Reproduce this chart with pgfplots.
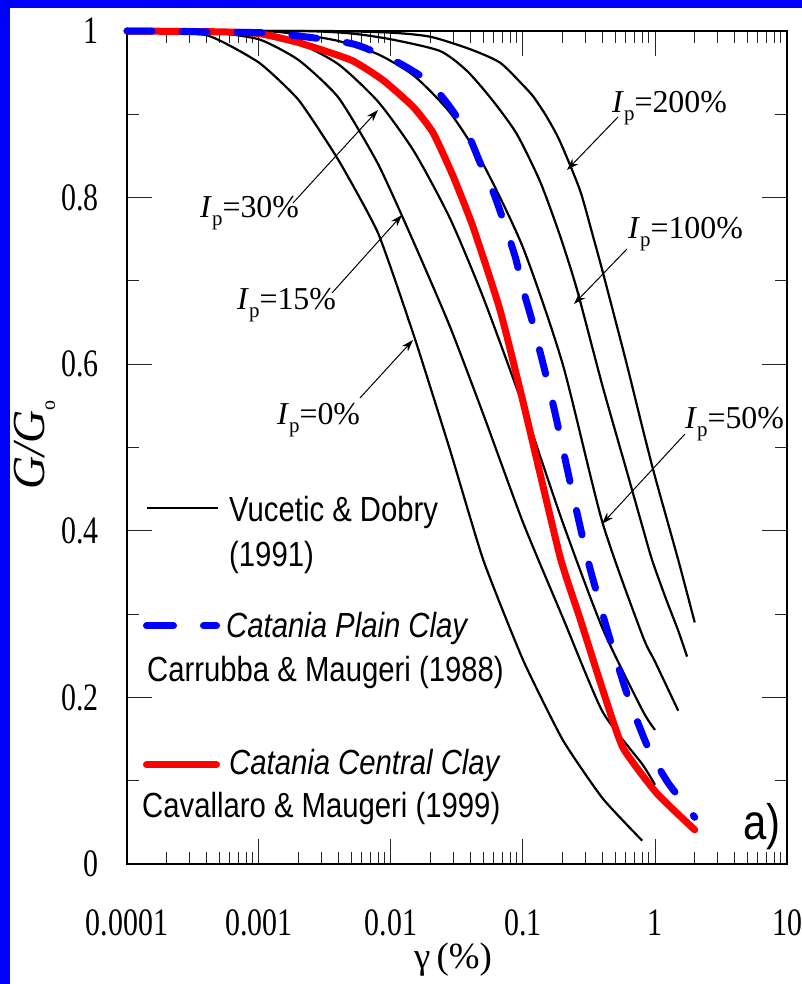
\documentclass[border=0pt]{standalone}
\usepackage{pgfplots}
\usepackage{pgfplotstable}
\pgfplotsset{compat=1.18}
\usepackage{fontspec}
\setmainfont{Liberation Serif}
\newfontfamily\ticks[FakeStretch=0.77]{Liberation Serif}
\newfontfamily\lsans[FakeStretch=0.84]{Liberation Sans}
\usetikzlibrary{arrows.meta}
\definecolor{fblue}{RGB}{0,0,255}
\definecolor{fred}{RGB}{255,0,0}

\pgfplotstableread{
g G
1e-4 1.0
4e-4 0.995
1e-3 0.962
2e-3 0.917
4e-3 0.845
8e-3 0.757
0.015 0.633
0.028 0.497
0.05 0.365
0.1 0.245
0.2 0.149
0.4 0.079
0.8 0.028
}\ipzero
\pgfplotstableread{
g G
1e-4 1.0
4e-4 0.999
1e-3 0.99
2e-3 0.965
4e-3 0.92
8e-3 0.84
0.015 0.745
0.028 0.645
0.05 0.54
0.1 0.41
0.2 0.296
0.4 0.183
0.8 0.12
1.0 0.095
}\ipfifteen
\pgfplotstableread{
g G
1e-4 1.0
4e-4 1.0
1e-3 0.995
2e-3 0.985
4e-3 0.96
8e-3 0.915
0.015 0.855
0.028 0.775
0.05 0.68
0.1 0.55
0.2 0.41
0.4 0.283
0.8 0.185
1.0 0.161
}\ipthirty
\pgfplotstableread{
g G
1e-4 1.0
1e-3 1.0
2e-3 0.996
4e-3 0.988
8e-3 0.972
0.015 0.946
0.028 0.902
0.05 0.84
0.1 0.74
0.2 0.60
0.4 0.41
0.8 0.275
1.0 0.243
1.5 0.184
}\ipfifty
\pgfplotstableread{
g G
1e-4 1.0
2e-3 1.0
5e-3 0.997
0.01 0.99
0.0235 0.976
0.0377 0.952
0.0593 0.916
0.09 0.876
0.135 0.819
0.19 0.755
0.256 0.69
0.4 0.574
0.6 0.476
0.8 0.406
0.95 0.365
1.2 0.32
1.5 0.28
1.75 0.249
}\iphundred
\pgfplotstableread{
g G
1e-4 1.0
3e-3 1.0
0.01 0.998
0.02 0.993
0.04 0.978
0.067 0.962
0.1 0.935
0.12 0.921
0.15 0.898
0.19 0.868
0.27 0.809
0.34 0.753
0.4 0.712
0.6 0.605
0.8 0.525
1.0 0.465
1.5 0.365
2.0 0.29
}\iptwohundred
\pgfplotstableread{
g G
1e-4 1.0
5e-4 0.999
1e-3 0.997
2e-3 0.986
5e-3 0.965
0.0087 0.941
0.0147 0.909
0.0208 0.878
0.0295 0.826
0.0418 0.765
0.067 0.665
0.1 0.555
0.19 0.37
0.27 0.295
0.4 0.21
0.57 0.14
1.03 0.085
2.0 0.041
}\central
\pgfplotstableread{
g G
1e-4 1.0
1e-3 0.998
2e-3 0.994
5e-3 0.985
8e-3 0.973
0.012 0.96
0.019 0.94
0.027 0.912
0.038 0.877
0.047 0.843
0.06 0.805
0.073 0.767
0.088 0.727
0.1 0.69
0.12 0.646
0.17 0.55
0.23 0.455
0.31 0.365
0.36 0.327
0.42 0.289
0.5 0.249
0.6 0.209
0.74 0.17
0.92 0.134
1.25 0.098
1.75 0.068
2.0 0.056
}\plain

\begin{document}
\begin{tikzpicture}
\useasboundingbox (-127bp,-120bp) rectangle (675bp,864bp);
\fill[fblue] (-127bp,-120bp) rectangle (-117bp,864bp);
\fill[fblue] (-127bp,856bp) rectangle (675bp,864bp);
\begin{axis}[
  at={(0,0)}, anchor=south west,
  scale only axis, width=660bp, height=833bp,
  xmode=log, xmin=1e-4, xmax=10, ymin=0, ymax=1,
  xtick={1e-4,1e-3,1e-2,1e-1,1,10},
  xticklabels={0.0001,0.001,0.01,0.1,1,10},
  minor xtick={2e-4,3e-4,4e-4,5e-4,6e-4,7e-4,8e-4,9e-4,
    2e-3,3e-3,4e-3,5e-3,6e-3,7e-3,8e-3,9e-3,
    0.02,0.03,0.04,0.05,0.06,0.07,0.08,0.09,
    0.2,0.3,0.4,0.5,0.6,0.7,0.8,0.9,
    2,3,4,5,6,7,8,9},
  ytick={0,0.2,0.4,0.6,0.8,1},
  yticklabels={0,0.2,0.4,0.6,0.8,1},
  minor ytick={0.1,0.3,0.5,0.7,0.9},
  major tick length=25bp, minor tick length=12bp,
  tick style={line width=1bp, color=black!85},
  axis line style={line width=1.3bp},
  xticklabel style={font=\ticks\fontsize{39}{39}\selectfont, anchor=base, yshift=-71bp, inner sep=0pt},
  yticklabel style={font=\ticks\fontsize{39}{39}\selectfont, anchor=east, xshift=-28bp, inner sep=0pt},
  clip=false,
]
\addplot[black, line width=2.2bp, smooth, tension=0.3] table[x=g,y=G] {\ipzero};
\addplot[black, line width=2.2bp, smooth, tension=0.35] table[x=g,y=G] {\ipfifteen};
\addplot[black, line width=2.2bp, smooth, tension=0.4] table[x=g,y=G] {\ipthirty};
\addplot[black, line width=2.2bp, smooth, tension=0.4] table[x=g,y=G] {\ipfifty};
\addplot[black, line width=2.2bp, smooth, tension=0.4] table[x=g,y=G] {\iphundred};
\addplot[black, line width=2.2bp, smooth, tension=0.4] table[x=g,y=G] {\iptwohundred};
\addplot[fred, line width=7bp, line cap=round, line join=round, smooth, tension=0.3] table[x=g,y=G] {\central};
\addplot[fblue, line width=7bp, line cap=round, line join=round, smooth, tension=0.4, dash pattern=on 25bp off 30bp] table[x=g,y=G] {\plain};
\end{axis}
\begin{scope}[x=1bp,y=-1bp,shift={(-127bp,864bp)}]
  % legend
  \draw[black, line width=2.2bp] (147,508) -- (218,508);
  \draw[fblue, line width=7bp, line cap=round] (146.5,626) -- (173.5,626);
  \draw[fblue, line width=7bp, line cap=round] (203.5,626) -- (216.5,626);
  \draw[fred, line width=7bp, line cap=round] (146.5,765) -- (216.5,765);
  \begin{scope}[every node/.style={anchor=base west, inner sep=0pt, font=\lsans\fontsize{35}{35}\selectfont}]
    \node at (229,522) {Vucetic \& Dobry};
    \node at (229,567) {(1991)};
    \node at (226,638) {\itshape Catania Plain Clay};
    \node at (147,682) {Carrubba \& Maugeri (1988)};
    \node at (229,775) {\itshape Catania Central Clay};
    \node at (142,818) {Cavallaro \& Maugeri (1999)};
  \end{scope}
  \node[anchor=base west, inner sep=0pt, font=\lsans\fontsize{50}{50}\selectfont] at (743,840) {a)};
  % Ip labels
  \begin{scope}[every node/.style={anchor=base west, inner sep=0pt, font=\fontsize{32}{32}\selectfont}]
    \node at (612,113) {\textit{I}\raisebox{-8bp}{\fontsize{21}{21}\selectfont p}=200\%};
    \node at (628,239) {\textit{I}\raisebox{-8bp}{\fontsize{21}{21}\selectfont p}=100\%};
    \node at (685,429) {\textit{I}\raisebox{-8bp}{\fontsize{21}{21}\selectfont p}=50\%};
    \node at (200,218) {\textit{I}\raisebox{-8bp}{\fontsize{21}{21}\selectfont p}=30\%};
    \node at (237,310) {\textit{I}\raisebox{-8bp}{\fontsize{21}{21}\selectfont p}=15\%};
    \node at (277,425) {\textit{I}\raisebox{-8bp}{\fontsize{21}{21}\selectfont p}=0\%};
  \end{scope}
  \begin{scope}[line width=1bp, -{Stealth[length=12bp,width=8bp]}]
    \draw (618,117) -- (567,170);
    \draw (627,249) -- (574,304);
    \draw (685,434) -- (602,524);
    \draw (293,203) -- (378,110);
    \draw (332,293) -- (402,215);
    \draw (360,398) -- (413,340);
  \end{scope}
  % axis labels
  \node[rotate=90, anchor=base west, inner sep=0pt, font=\fontsize{46}{46}\selectfont] at (45,490) {\textit{G/G}\raisebox{-10bp}{\fontsize{20}{20}\selectfont o}};
  \node[anchor=base, inner sep=0pt, font=\fontsize{37}{37}\selectfont] at (453,969) {γ\,(\%)};
\end{scope}
\end{tikzpicture}
\end{document}
